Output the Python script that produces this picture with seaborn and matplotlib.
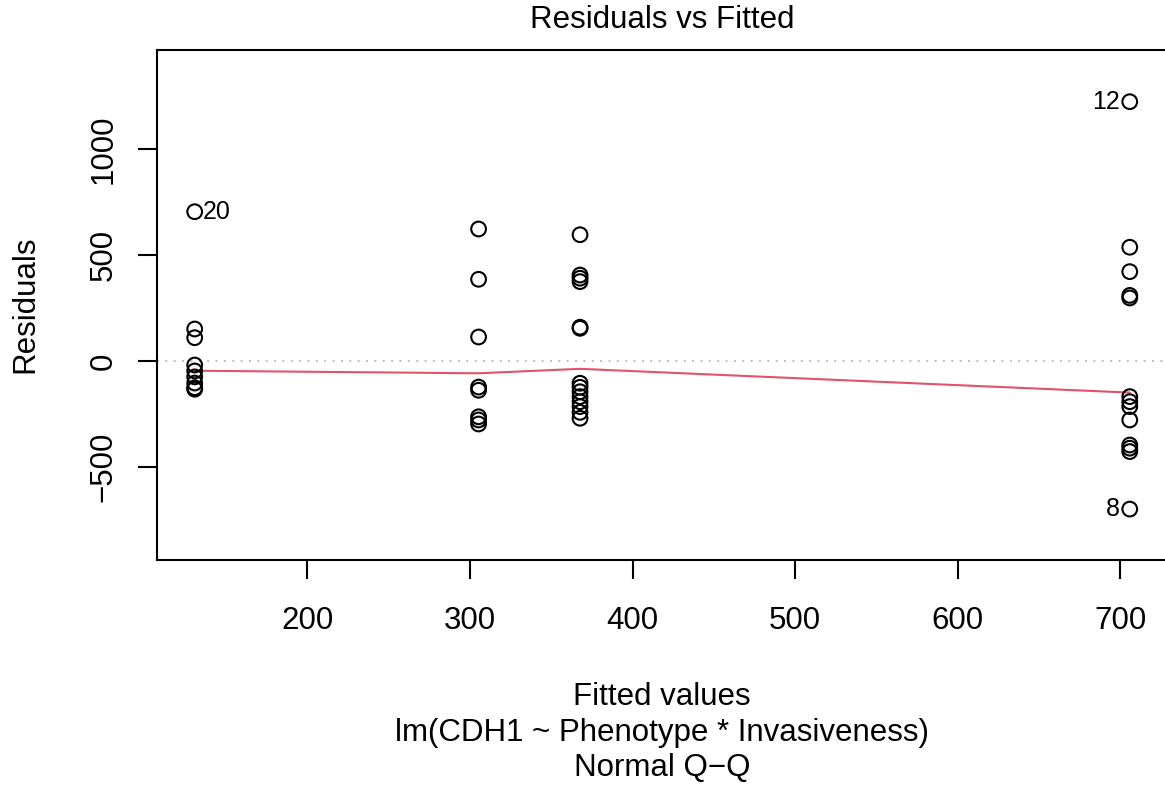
import numpy as np
import pandas as pd
import matplotlib
matplotlib.use("Agg")
import matplotlib.pyplot as plt
import seaborn as sns

# Fitted values of the four Phenotype x Invasiveness cells
fitted_levels = [130.7, 305.3, 367.7, 705.8]

# Residuals observed in each cell
resid_g1 = [704.5, 151.7, 110.7, -18, -46, -74, -103, -125, -132]
resid_g2 = [623, 386, 114, -122, -137, -262, -277, -296]
resid_g3 = [596, 406, 391, 375, 160, 155, -104, -123, -144, -167, -191, -214, -241, -269]
resid_g4 = [1223, 537, 422, 310, 298, -167, -191, -214, -277, -395, -410, -426, -697]

# Smoothed residual trend evaluated at each fitted level
smooth_resid = [-45, -57, -36, -148]

# Observation ids of the three largest |residuals|, largest first
outlier_ids = ["12", "20", "8"]

title = "Residuals vs Fitted"
x_label = "Fitted values"
caption_lines = ["lm(CDH1 ~ Phenotype * Invasiveness)", "Normal Q\u2212Q"]
y_label = "Residuals"
x_ticks = [200, 300, 400, 500, 600, 700]
y_ticks = [-500, 0, 500, 1000]

groups = [resid_g1, resid_g2, resid_g3, resid_g4]
df = pd.DataFrame({
    "fitted": np.concatenate([[f] * len(g) for f, g in zip(fitted_levels, groups)]),
    "resid": np.concatenate(groups),
})
smooth_df = pd.DataFrame({"fitted": fitted_levels, "resid": smooth_resid})

sns.set_style("ticks")
plt.rcParams["font.family"] = ["Liberation Sans", "DejaVu Sans"]
plt.rcParams["text.color"] = "black"
plt.rcParams["axes.labelcolor"] = "black"
plt.rcParams["xtick.color"] = "black"
plt.rcParams["ytick.color"] = "black"
FS = 22.5
LW = 1.5

W, H = 1165, 793
fig = plt.figure(figsize=(W / 100, H / 100), dpi=100)
ax_left, ax_right, ax_top, ax_bottom = 157.3, 1167.0, 49.5, 560.0
ax = fig.add_axes([ax_left / W, 1 - ax_bottom / H,
                   (ax_right - ax_left) / W, (ax_bottom - ax_top) / H])

# Zero reference line
ax.axhline(0, color="#BEBEBE", lw=1.4, ls=(0, (1, 3.3)), zorder=1)

# Smoothed trend
sns.lineplot(data=smooth_df, x="fitted", y="resid", ax=ax, color="#DF536B",
             lw=1.5, zorder=2, legend=False)

# Residual points (open circles)
sns.scatterplot(data=df, x="fitted", y="resid", ax=ax, marker="o", s=112,
                facecolor="none", edgecolor="black", linewidth=1.5, zorder=3,
                legend=False)

xlim = (107.7, 728.7)
ylim = (-937, 1469)
ax.set_xlim(*xlim)
ax.set_ylim(*ylim)

# Label the most extreme residuals
order = np.argsort(-np.abs(df["resid"].to_numpy()))[:len(outlier_ids)]
x_mid = np.mean([df["fitted"].min(), df["fitted"].max()])
for idx, lab in zip(order, outlier_ids):
    fx, ry = df["fitted"].iloc[idx], df["resid"].iloc[idx]
    if fx < x_mid:
        ax.annotate(lab, xy=(fx, ry), xytext=(6.0, 0), textcoords="offset points",
                    ha="left", va="center", fontsize=18)
    else:
        ax.annotate(lab, xy=(fx, ry), xytext=(-7.0, 0), textcoords="offset points",
                    ha="right", va="center", fontsize=18)

ax.set_xticks(x_ticks)
ax.set_yticks(y_ticks)
ax.set_xlabel("")
ax.set_ylabel("")
ax.tick_params(axis="both", direction="out", length=14, width=LW,
               labelsize=FS, colors="black")
ax.tick_params(axis="x", pad=19)
ax.tick_params(axis="y", pad=14, labelrotation=90)
for t in ax.get_yticklabels():
    t.set_va("center")
for s in ax.spines.values():
    s.set_visible(True)
    s.set_linewidth(LW)
    s.set_color("black")

cx = (ax_left + ax_right) / 2 / W
fig.text(cx, 1 - 28 / H, title, ha="center", va="baseline", fontsize=FS)
fig.text(cx, 1 - 705 / H, x_label, ha="center", va="baseline", fontsize=FS)
fig.text(cx, 1 - 740.5 / H, caption_lines[0], ha="center", va="baseline", fontsize=FS)
fig.text(cx, 1 - 776 / H, caption_lines[1], ha="center", va="baseline", fontsize=FS)
fig.text(33 / W, 1 - 304 / H, y_label, ha="center", va="baseline",
         rotation=90, fontsize=FS, rotation_mode="anchor")

fig.savefig("out.png", dpi=100, facecolor="white")
